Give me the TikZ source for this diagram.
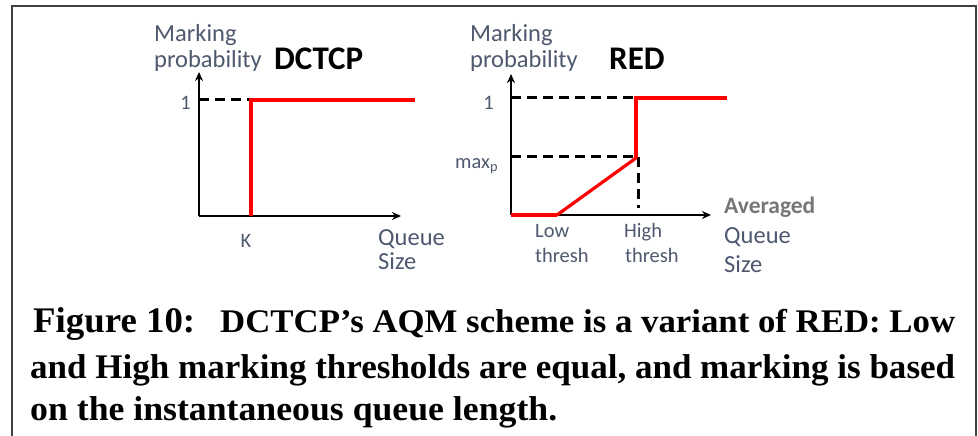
\documentclass[tikz,border=0pt]{standalone}
\usepackage{fontspec}
\usepackage{graphicx}
\setmainfont{Liberation Serif}
\newfontfamily\lblfont{Carlito}
\usetikzlibrary{arrows.meta}
\definecolor{lbl}{RGB}{78,88,110}
\definecolor{avg}{RGB}{118,118,118}
\definecolor{framecol}{RGB}{64,64,64}
\definecolor{darkred}{RGB}{150,10,10}
\tikzset{
  axis/.style={black, line width=2pt, -{Stealth[length=9pt,width=8pt]}},
  guide/.style={black, line width=3pt, dash pattern=on 10pt off 6pt},
  curve/.style={red, line width=3.2pt},
  curvethick/.style={red, line width=4.5pt},
  lowcurve/.style={darkred, line width=2.2pt},
  lbl/.style={inner sep=0pt, text=lbl, font=\lblfont\fontsize{24.5}{24.5}\selectfont},
  small/.style={inner sep=0pt, text=lbl, font=\lblfont\fontsize{20.5}{20.5}\selectfont},
  plottitle/.style={inner sep=0pt, text=black, font=\lblfont\bfseries\fontsize{33}{33}\selectfont},
  captext/.style={inner sep=0pt, anchor=base west, text=black},
}
\begin{document}
\begin{tikzpicture}[x=1pt,y=-1pt]
\useasboundingbox (0,0) rectangle (978,436);
% frame
\coordinate (fbl) at (12,436);
\coordinate (ftl) at (12,6);
\coordinate (ftr) at (976,6);
\coordinate (fbr) at (976,436);
\draw[framecol, line width=2pt] (fbl) -- (ftl) -- (ftr) -- (fbr);

% ---------------- DCTCP ----------------
\coordinate (dO) at (199,216);
\coordinate (dY) at (199,72);
\coordinate (dX) at (401,216);
\coordinate (dOne) at (199,100);
\coordinate (dKtop) at (251,100);
\coordinate (dKbot) at (251,216);
\coordinate (dEnd) at (415,100);
\draw[lowcurve] (dO) -- (dKbot);
\draw[axis] (dO) -- (dY);
\draw[axis] (dO) -- (dX);
\draw[guide] (dOne) -- (dKtop);
\draw[curve] (dKbot) -- (dKtop) -- (dEnd);
\node[lbl, anchor=base west] (dm1) at (154,42) {Marking};
\node[lbl, anchor=base west] (dm2) at (154,67) {probability};
\node[plottitle, anchor=base west] (dt) at (274,70) {DCTCP};
\node[small, anchor=east] (d1) at (191,103) {1};
\node[small] (dK) at (246,241) {K};
\node[lbl, anchor=base west] (dq1) at (378,245) {Queue};
\node[lbl, anchor=base west] (dq2) at (378,269) {Size};

% ---------------- RED ----------------
\coordinate (rO) at (511,215);
\coordinate (rY) at (511,74);
\coordinate (rX) at (711,215);
\coordinate (rOne) at (511,98);
\coordinate (rMax) at (511,156);
\coordinate (rLow) at (557,215);
\coordinate (rHi) at (636,158);
\coordinate (rHiTop) at (636,98);
\coordinate (rEnd) at (727,98);
\coordinate (rGmax) at (638,156);
\coordinate (rGbot) at (638,208);
\draw[guide] (rOne) -- (rHiTop);
\draw[guide] (rMax) -- (rGmax) -- (rGbot);
\draw[axis] (rO) -- (rY);
\draw[axis] (rO) -- (rX);
\draw[curvethick] (rO) -- (rLow);
\draw[curve, line cap=round] (rLow) -- (rHi);
\draw[curve] (rHi) -- (rHiTop) -- (rEnd);
\node[lbl, anchor=base west] (rm1) at (470,42) {Marking};
\node[lbl, anchor=base west] (rm2) at (470,67) {probability};
\node[plottitle, anchor=base west] (rt) at (609,70) {RED};
\node[small, anchor=east] (r1) at (494,103) {1};
\node[small, anchor=base west] (rmax) at (455,168) {max\textsubscript{p}};
\node[small, anchor=base west] (rl1) at (535,237) {Low};
\node[small, anchor=base west] (rl2) at (535,262) {thresh};
\node[small, anchor=base west] (rh1) at (624,237) {High};
\node[small, anchor=base west] (rh2) at (625,262) {thresh};
\node[inner sep=0pt, anchor=base west, text=avg, font=\lblfont\bfseries\fontsize{23.5}{23.5}\selectfont] (ravg) at (724,213) {Averaged};
\node[lbl, anchor=base west] (rq1) at (724,243) {Queue};
\node[lbl, anchor=base west] (rq2) at (724,272) {Size};

% ---------------- caption ----------------
\node[captext] (c1a) at (33,332) {\resizebox{162pt}{\height}{\fontsize{36}{36}\selectfont\bfseries Figure 10:}};
\node[captext] (c1b) at (220,332) {\resizebox{735pt}{\height}{\fontsize{33}{33}\selectfont\bfseries DCTCP’s AQM scheme is a variant of RED: Low}};
\node[captext] (c2) at (30,378) {\resizebox{925pt}{\height}{\fontsize{34.5}{34.5}\selectfont\bfseries and High marking thresholds are equal, and marking is based}};
\node[captext] (c3) at (30,420) {\resizebox{527pt}{\height}{\fontsize{34.5}{34.5}\selectfont\bfseries on the instantaneous queue length.}};
\end{tikzpicture}
\end{document}
